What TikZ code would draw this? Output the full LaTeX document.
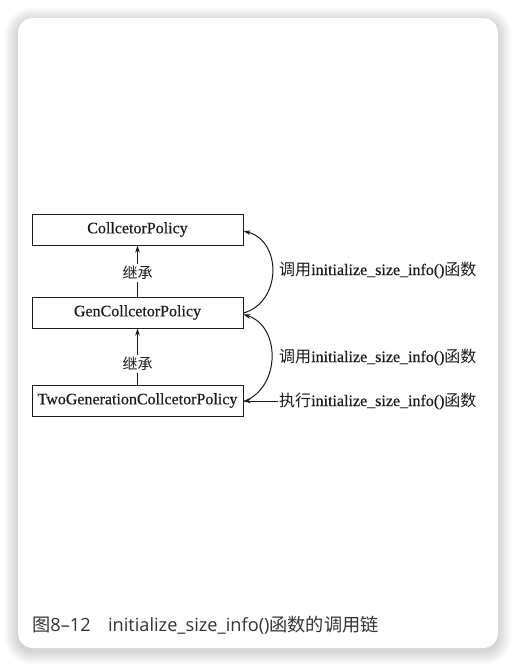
\documentclass[tikz,border=0pt]{standalone}
\usepackage{fontspec}
\setmainfont{Liberation Serif}[FakeBold=0.4]
\newfontfamily\cjk{Noto Sans CJK SC}
\newfontfamily\capfont{Open Sans}
\usetikzlibrary{arrows.meta}
\definecolor{ink}{HTML}{1A1A1A}
\definecolor{captxt}{HTML}{333333}
\tikzset{
  box/.style={draw=ink, line width=1pt, minimum width=211pt, minimum height=31pt, inner sep=0pt, text=ink, font=\fontsize{16}{16}\selectfont},
  arr/.style={draw=ink, line width=1pt, -{Stealth[length=7pt,width=4.5pt]}},
  lbl/.style={anchor=west, inner sep=1pt, text=ink, font=\fontsize{16}{16}\selectfont},
  inh/.style={fill=white, inner sep=2pt, text=ink, font=\cjk\fontsize{15}{15}\selectfont},
}
\begin{document}
\begin{tikzpicture}[x=1pt,y=-1pt]
\useasboundingbox (0,0) rectangle (517,667);
\fill[white] (0,0) rectangle (517,667);
% shadow
\foreach \i in {1,...,14}{
  \fill[black, opacity=0.012, rounded corners=15pt+\i pt] (18-\i,18-\i+3) rectangle (498+\i,648+\i+3);
}
\fill[white, rounded corners=15pt] (18,18) rectangle (498,648);
% boxes
\node[box] (A) at (137.5,229.5) {CollcetorPolicy};
\node[box] (B) at (137.5,312.5) {GenCollcetorPolicy};
\node[box] (C) at (137.5,400.5) {TwoGenerationCollcetorPolicy};
% inheritance arrows
\draw[arr] (B.north) -- node[inh, pos=0.46] {继承} (A.south);
\draw[arr] (C.north) -- node[inh, pos=0.37] {继承} (B.south);
% labels
\node[lbl] (L1) at (278,270) {{\cjk 调用}initialize\_size\_info(){\cjk 函数}};
\node[lbl] (L2) at (278,357) {{\cjk 调用}initialize\_size\_info(){\cjk 函数}};
\node[lbl] (L3) at (278,401) {{\cjk 执行}initialize\_size\_info(){\cjk 函数}};
% call curves
\draw[arr] ([yshift=-0.5pt]B.east) .. controls (282,302) and (282,241) .. ([yshift=-1.5pt]A.east);
\draw[arr] ([yshift=-1pt]C.east) .. controls (281,388) and (281,326) .. ([yshift=-2pt]B.east);
\draw[arr] (L3.west) -- (L3.west -| C.east);
% caption
\node[anchor=west, inner sep=0pt, text=captxt, font=\capfont\fontsize{18.2}{18.2}\selectfont] (cap) at (32,625)
  {{\cjk 图}8–12\hspace{0.95em}initialize\_size\_info(){\cjk 函数的调用链}};
\end{tikzpicture}
\end{document}
